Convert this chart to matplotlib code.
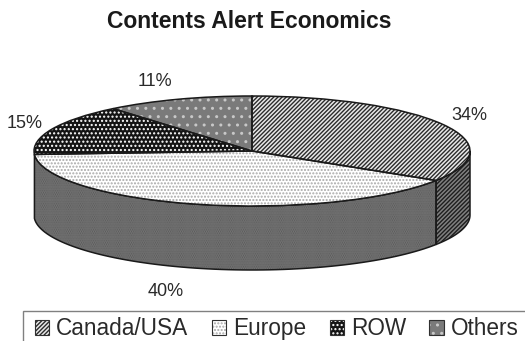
import numpy as np
import matplotlib
matplotlib.use('Agg')
import matplotlib.pyplot as plt
from matplotlib.patches import Polygon, Patch, Rectangle
from matplotlib.legend_handler import HandlerTuple

plt.rcParams['font.family'] = ['Liberation Sans', 'DejaVu Sans']
plt.rcParams['hatch.linewidth'] = 1.0

labels = ['Canada/USA', 'Europe', 'ROW', 'Others']
shares = [34, 40, 15, 11]
# face colour, hatch colour, hatch
top_styles = [('#e8e8e8', '#2c2c2c', '////////'),
              ('#ffffff', '#a8a8a8', '.....'),
              ('#141414', '#ffffff', '....'),
              ('#7a7a7a', '#c8c8c8', '..')]
side_styles = [('#808080', '#1e1e1e', '////////'),
               ('#858585', '#525252', '.........')]

W, H = 525, 341
fig = plt.figure(figsize=(W / 100, H / 100), dpi=100)
# axes sized so that a unit pie is the flattened ellipse
cx, cy, rx, ry = 252, 151, 218, 55
depth = 64 / ry
ax = fig.add_axes([0, 0, 1, 1])
wedges, _ = ax.pie(shares, startangle=90, counterclock=False, radius=1)
for w, (fc, hc, h) in zip(wedges, top_styles):
    w.set(facecolor=fc, edgecolor=hc, hatch=h, linewidth=0, zorder=3)
outline, _ = ax.pie(shares, startangle=90, counterclock=False, radius=1,
                    wedgeprops=dict(fill=False, edgecolor='#1a1a1a', linewidth=1.1, zorder=4))
ax.set_aspect('auto')
ax.set_xlim(-cx / rx, (W - cx) / rx)
ax.set_ylim(-(H - cy) / ry, cy / ry)
ax.axis('off')

# side wall of the visible front slices
edges = np.cumsum([0] + shares) / sum(shares) * 2 * np.pi
for i, (fc, hc, h) in enumerate(side_styles):
    a0, a1 = edges[i], edges[i + 1]
    # only the front half of the rim shows
    a0, a1 = max(a0, np.pi / 2), min(a1, 3 * np.pi / 2)
    t = np.linspace(a0, a1, 80)
    x, y = np.sin(t), np.cos(t)
    pts = np.r_[np.c_[x, y], np.c_[x, y - depth][::-1]]
    ax.add_patch(Polygon(pts, closed=True, facecolor=fc, edgecolor=hc, hatch=h, linewidth=0, zorder=1))
    ax.add_patch(Polygon(pts, closed=True, fill=False, edgecolor='#1a1a1a', linewidth=1.1, zorder=2))

# percent labels, positions in pixels
text_c = '#2a2a2a'
for s, (px, py) in zip(shares, [(469, 116), (166, 292), (25, 123), (155, 82)]):
    fig.text(px / W, 1 - py / H, f'{s}%', ha='center', va='center', fontsize=13, color=text_c)

fig.text(249 / W, 1 - 22 / H, 'Contents Alert Economics', ha='center', va='center',
         fontsize=16.5, fontweight='bold', color='#1a1a1a')

# legend box runs off the bottom and right of the figure
fig.add_artist(Rectangle((23 / W, -0.1), 1.0, 1 - 311 / H + 0.1, transform=fig.transFigure,
                         facecolor='white', edgecolor='#808080', linewidth=1.0))
handles = [(Patch(facecolor=fc, edgecolor=hc, hatch=h, linewidth=0),
            Patch(fill=False, edgecolor='#303030', linewidth=0.8)) for fc, hc, h in top_styles]
leg = fig.legend(handles, labels, ncol=4, loc='upper left', bbox_to_anchor=(23 / W, 1 - 305.5 / H),
                 bbox_transform=fig.transFigure, fontsize=16.3, frameon=False,
                 handlelength=0.64, handleheight=0.64, handletextpad=0.3, columnspacing=1.03,
                 borderaxespad=0, borderpad=0.53, labelcolor=text_c,
                 handler_map={tuple: HandlerTuple(ndivide=1, pad=0)})
fig.savefig('out.png', dpi=100)
